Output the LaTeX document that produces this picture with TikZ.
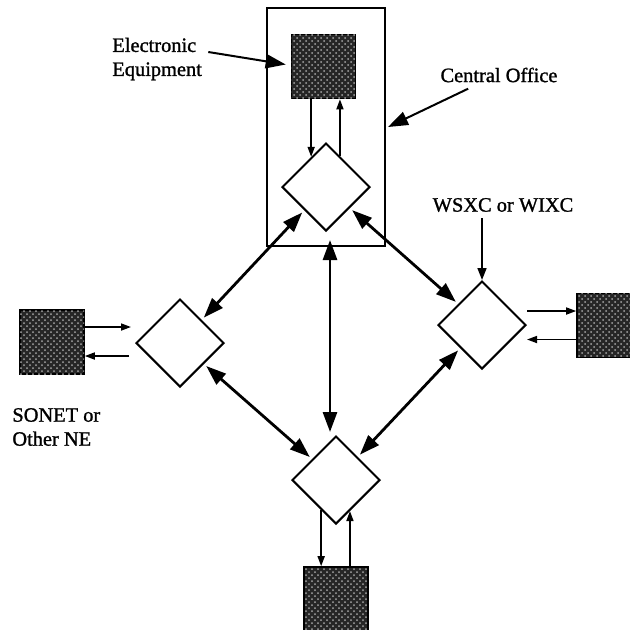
\documentclass[tikz,border=0pt]{standalone}
\usepackage{fontspec}
\setmainfont{Liberation Serif}[BoldFont=Liberation Serif, BoldFeatures={FakeBold=1.2}]
\usetikzlibrary{shapes.geometric,arrows.meta,patterns,calc}

\begin{document}
\begin{tikzpicture}[x=0.5pt,y=-0.5pt,
  xc/.style={draw, diamond, line width=1pt, minimum size=44pt, inner sep=0pt, fill=white},
  equip/.style={draw, line width=0.8pt, minimum size=32pt, inner sep=0pt, fill=black!85,
    postaction={pattern=crosshatch dots, pattern color=white!65!black}},
  link/.style={{Triangle[length=10pt,width=7pt]}-{Triangle[length=10pt,width=7pt]},
    line width=1.4pt, shorten <=1.5pt, shorten >=1.5pt},
  sig/.style={-{Triangle[length=5pt,width=3.5pt]}, line width=0.8pt},
  lbl/.style={font=\fontsize{10.2}{12}\selectfont\bfseries, inner sep=0pt, align=left},
  pointer/.style={-{Triangle[length=10pt,width=7pt]}, line width=1pt},
  tag/.style={-{Triangle[length=6pt,width=4.5pt]}, line width=0.8pt}]

  % page size in pixels of the figure
  \useasboundingbox (0,0) rectangle (630,629);

  % central office box
  \node[draw, line width=1pt, minimum width=59pt, minimum height=119pt] (office) at (326,127) {};

  % cross-connects (diamonds)
  \node[xc] (ctop)   at (326,187) {};
  \node[xc] (cleft)  at (180,343) {};
  \node[xc] (cright) at (482,325) {};
  \node[xc] (cbot)   at (336,480) {};

  % equipment (shaded squares)
  \node[equip] (eqtop)   at (323.5,66.5) {};
  \node[equip] (eqleft)  at (52,342) {};
  \node[equip] (eqright) at (609,325.5) {};
  \node[equip] (eqbot)   at (336,599) {};

  % links between cross-connects
  \draw[link] (ctop) -- (cleft);
  \draw[link] (ctop) -- (cright);
  \draw[link] (cleft) -- (cbot);
  \draw[link] (cright) -- (cbot);
  \draw[link, shorten <=4pt] ([xshift=2pt]ctop.south) -- ([xshift=-3pt]cbot.north);

  % top pair
  \coordinate (t1) at ($(ctop.north)!.33!(ctop.west)$);
  \coordinate (t2) at ($(ctop.north)!.31!(ctop.east)$);
  \draw[sig] (eqtop.south -| t1) -- (t1);
  \draw[sig] (t2) -- (eqtop.south -| t2);

  % bottom pair
  \coordinate (b1) at ($(cbot.south)!.33!(cbot.west)$);
  \coordinate (b2) at ($(cbot.south)!.31!(cbot.east)$);
  \draw[sig] (b1) -- (b1 |- eqbot.north);
  \draw[sig] (eqbot.north -| b2) -- (b2);

  % left pair
  \draw[sig, shorten >=2pt] ([yshift=7.5pt]eqleft.east) -- ([yshift=7.5pt]eqleft.east -| cleft.west);
  \draw[sig, shorten <=3pt] ([yshift=-7pt]eqleft.east -| cleft.west) -- ([yshift=-7pt]eqleft.east);

  % right pair
  \draw[sig] ([yshift=7pt]cright.east) -- ([yshift=7pt]cright.east -| eqright.west);
  \draw[sig] ([yshift=-7pt]eqright.west) -- ([yshift=-7pt]eqright.west -| cright.east);

  % labels
  \node[lbl, anchor=west] (eelab) at (112,59) {Electronic\\Equipment};
  \node[lbl] (colab) at (499,75) {Central Office};
  \node[lbl] (wlab) at (503,205) {WSXC or WIXC};
  \node[lbl, anchor=west] (snlab) at (12,427) {SONET or\\Other NE};

  % label pointers
  \draw[pointer] ([xshift=3pt,yshift=3.5pt]eelab.east) -- ([xshift=-2.5pt,yshift=1pt]eqtop.west);
  \draw[pointer] ([xshift=14pt,yshift=-3pt]colab.south west) -- ([xshift=1pt]office.east);
  \draw[tag] ([yshift=-3pt]wlab.south -| cright.north) -- (cright.north);
\end{tikzpicture}
\end{document}
